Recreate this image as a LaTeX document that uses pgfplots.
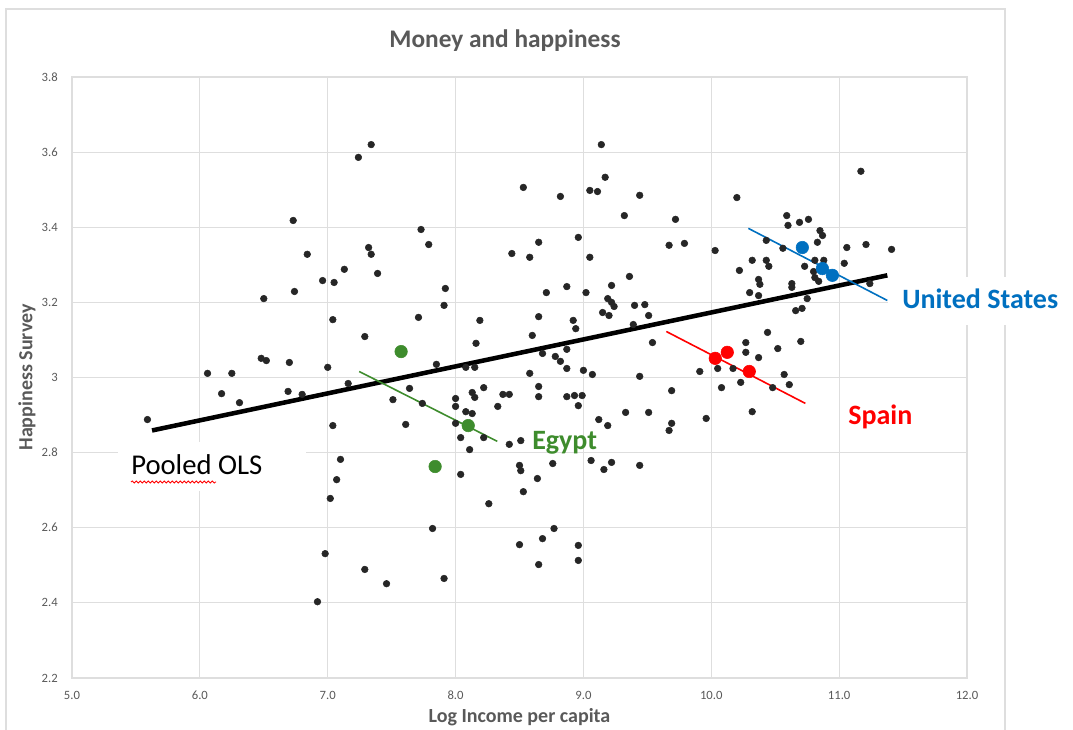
\documentclass[border=0pt]{standalone}
\usepackage{fontspec}
\setmainfont{Carlito}
\usepackage{pgfplots}
\usepackage{pgfplotstable}
\pgfplotsset{compat=1.18}
\usetikzlibrary{decorations.pathmorphing}
\definecolor{txtgray}{RGB}{89,89,89}
\definecolor{gridgray}{RGB}{222,222,222}
\definecolor{dotblack}{RGB}{38,38,38}
\definecolor{egyptgreen}{RGB}{62,140,45}
\definecolor{spainred}{RGB}{255,0,0}
\definecolor{usblue}{RGB}{0,112,192}

\pgfplotstableread{
x y
5.59 2.888
6.06 3.011
6.17 2.957
6.25 3.011
6.31 2.933
6.48 3.051
6.50 3.210
6.52 3.045
6.69 2.963
6.70 3.040
6.73 3.418
6.74 3.229
6.80 2.955
6.84 3.328
6.92 2.403
6.96 3.258
6.98 2.531
7.00 3.027
7.02 2.678
7.04 3.154
7.04 2.872
7.05 3.253
7.07 2.728
7.10 2.782
7.13 3.288
7.16 2.984
7.24 3.586
7.29 3.109
7.29 2.489
7.32 3.346
7.34 3.620
7.34 3.328
7.39 3.277
7.46 2.451
7.51 2.941
7.61 2.875
7.64 2.971
7.71 3.160
7.73 3.394
7.74 2.931
7.79 3.354
7.82 2.598
7.85 3.035
7.91 3.192
7.91 2.465
7.92 3.237
8.00 2.944
8.00 2.923
8.00 2.878
8.04 2.840
8.04 2.742
8.08 3.027
8.08 2.909
8.11 2.808
8.13 2.904
8.13 2.960
8.15 3.027
8.15 2.947
8.16 3.091
8.19 3.152
8.22 2.973
8.22 2.840
8.26 2.664
8.33 2.923
8.37 2.955
8.42 2.955
8.42 2.822
8.44 3.330
8.50 2.766
8.50 2.555
8.51 2.832
8.51 2.752
8.53 3.506
8.53 2.696
8.58 3.320
8.58 3.011
8.60 3.112
8.64 2.731
8.65 3.360
8.65 3.162
8.65 2.976
8.65 2.949
8.65 2.502
8.68 3.064
8.68 2.571
8.71 3.226
8.76 2.771
8.77 2.598
8.78 3.056
8.82 3.482
8.82 3.043
8.87 3.242
8.87 3.075
8.87 3.024
8.87 2.949
8.92 3.152
8.93 2.952
8.94 3.130
8.96 3.373
8.96 2.925
8.96 2.553
8.96 2.513
8.99 2.952
9.00 3.019
9.02 3.226
9.05 3.498
9.05 3.320
9.06 2.779
9.07 3.008
9.11 3.495
9.12 2.888
9.14 3.620
9.15 3.173
9.16 2.755
9.17 3.533
9.19 3.210
9.19 2.872
9.20 3.165
9.22 3.245
9.22 3.200
9.22 2.774
9.24 3.189
9.32 3.431
9.33 2.907
9.36 3.269
9.39 3.141
9.40 3.192
9.44 3.485
9.44 3.003
9.44 2.766
9.48 3.194
9.51 3.165
9.51 2.907
9.54 3.093
9.67 3.352
9.67 2.859
9.69 2.965
9.69 2.878
9.72 3.421
9.79 3.357
9.91 3.016
9.96 2.891
10.03 3.338
10.05 3.024
10.08 2.973
10.17 3.024
10.20 3.479
10.22 3.285
10.23 2.987
10.27 3.093
10.27 3.067
10.30 3.226
10.32 3.312
10.32 2.909
10.37 3.261
10.37 3.218
10.37 3.053
10.38 3.248
10.43 3.312
10.43 3.365
10.44 3.120
10.45 3.296
10.48 2.973
10.52 3.077
10.56 3.344
10.57 3.008
10.59 3.431
10.60 3.405
10.61 2.981
10.63 3.250
10.63 3.240
10.66 3.178
10.69 3.413
10.70 3.096
10.71 3.184
10.73 3.296
10.75 3.210
10.76 3.421
10.80 3.282
10.81 3.312
10.81 3.266
10.83 3.360
10.84 3.256
10.85 3.391
10.87 3.378
10.88 3.312
11.04 3.304
11.06 3.346
11.17 3.549
11.21 3.354
11.24 3.250
11.41 3.341
}\pooled

\begin{document}
\begin{tikzpicture}
\useasboundingbox (0,0) rectangle (804.75pt,547.5pt);
\draw[gridgray, line width=0.9pt] (4.5pt,-1pt) -- (4.5pt,540.75pt) -- (753.75pt,540.75pt) -- (753.75pt,-1pt);
\begin{axis}[
  at={(54pt,39pt)}, anchor=south west,
  scale only axis, width=671.25pt, height=450.75pt,
  xmin=5, xmax=12, ymin=2.2, ymax=3.8,
  xtick={5,6,7,8,9,10,11,12},
  xticklabels={5.0,6.0,7.0,8.0,9.0,10.0,11.0,12.0},
  ytick={2.2,2.4,2.6,2.8,3,3.2,3.4,3.6,3.8},
  yticklabels={2.2,2.4,2.6,2.8,3,3.2,3.4,3.6,3.8},
  grid=major,
  major grid style={gridgray, line width=0.9pt},
  axis line style={gridgray, line width=0.9pt},
  major tick length=0pt,
  tick label style={font=\fontsize{9.5}{11}\selectfont, text=txtgray, inner sep=0pt},
  xticklabel style={anchor=center, yshift=-12.75pt},
  yticklabel style={anchor=east, xshift=-10.5pt},
]
\addplot[only marks, mark=*, mark size=2.5pt, color=dotblack, mark options={draw=dotblack, fill=dotblack, line width=0.4pt}] table {\pooled};
\addplot[black, line width=3.4pt] coordinates {(5.626,2.859) (11.377,3.272)};
\addplot[egyptgreen, line width=1.2pt] coordinates {(7.246,3.016) (8.326,2.830)};
\addplot[only marks, mark=*, mark size=4.7pt, color=egyptgreen, mark options={draw=egyptgreen, fill=egyptgreen, line width=0.4pt}] coordinates {(7.574,3.069) (8.099,2.872) (7.840,2.763)};
\addplot[spainred, line width=1.2pt] coordinates {(9.648,3.1225) (10.736,2.931)};
\addplot[only marks, mark=*, mark size=4.7pt, color=spainred, mark options={draw=spainred, fill=spainred, line width=0.4pt}] coordinates {(10.031,3.051) (10.125,3.067) (10.297,3.016)};
\addplot[usblue, line width=1.2pt] coordinates {(10.290,3.397) (11.377,3.205)};
\addplot[only marks, mark=*, mark size=4.7pt, color=usblue, mark options={draw=usblue, fill=usblue, line width=0.4pt}] coordinates {(10.712,3.346) (10.869,3.290) (10.947,3.272)};
\end{axis}
% title and axis titles
\node[anchor=base, text=txtgray, font=\bfseries\fontsize{19}{22}\selectfont] at (378.75pt,511.5pt) {Money and happiness};
\node[anchor=base, text=txtgray, font=\bfseries\fontsize{15}{18}\selectfont] at (389.6pt,5.25pt) {Log Income per capita};
\node[rotate=90, text=txtgray, font=\bfseries\fontsize{15}{18}\selectfont] at (20.25pt,264.4pt) {Happiness Survey};
% annotations
\fill[white] (88.5pt,179.25pt) rectangle (229.5pt,216pt);
\node[anchor=base west, inner sep=0pt, font=\fontsize{21.5}{26}\selectfont] at (98.25pt,191.25pt) {Pooled OLS};
\draw[red, line width=0.6pt, decorate, decoration={snake, amplitude=0.8pt, segment length=3pt}] (98.25pt,186pt) -- (162pt,186pt);
\fill[white] (666pt,303.75pt) rectangle (804.75pt,339.75pt);
\node[anchor=base west, inner sep=0pt, text=usblue, font=\bfseries\fontsize{21}{25}\selectfont] at (676.5pt,315.75pt) {United States};
\node[anchor=base west, inner sep=0pt, text=spainred, font=\bfseries\fontsize{21}{25}\selectfont] at (636pt,228.75pt) {Spain};
\node[anchor=base west, inner sep=0pt, text=egyptgreen, font=\bfseries\fontsize{21}{25}\selectfont] at (399pt,210pt) {Egypt};
\end{tikzpicture}
\end{document}
